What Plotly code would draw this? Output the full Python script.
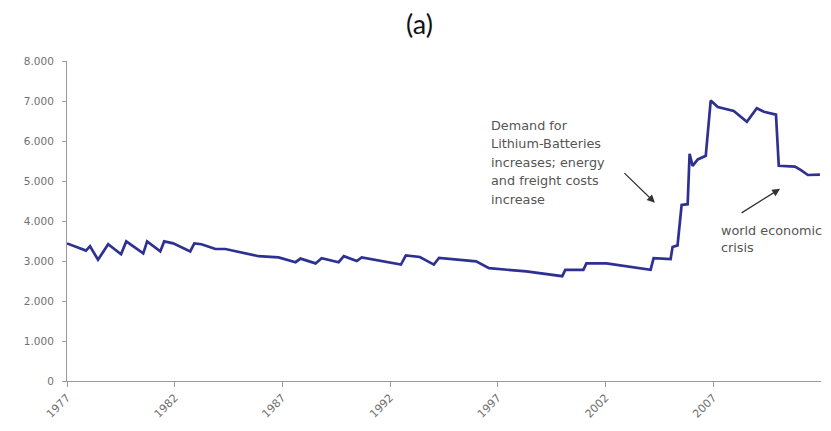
import plotly.graph_objects as go

# Decimal years and values
years = [1977.0, 1977.88, 1978.07, 1978.44, 1978.91, 1979.51, 1979.75, 1980.54, 1980.72,
         1981.33, 1981.51, 1981.93, 1982.72, 1982.91, 1983.24, 1983.89, 1984.35, 1985.28,
         1985.89, 1986.82, 1987.61, 1987.84, 1988.54, 1988.82, 1989.61, 1989.85, 1990.45,
         1990.68, 1992.50, 1992.73, 1993.38, 1994.03, 1994.27, 1995.99, 1996.59, 1998.32,
         1999.99, 2000.13, 2000.97, 2001.11, 2002.04, 2004.09, 2004.23, 2005.02, 2005.11,
         2005.34, 2005.53, 2005.81, 2005.90, 2006.04, 2006.28, 2006.65, 2006.88, 2007.21,
         2007.95, 2008.56, 2009.02, 2009.35, 2009.91, 2010.04, 2010.79, 2011.07, 2011.39,
         2011.95]
values = [3440, 3260, 3370, 3030, 3420, 3170, 3490, 3190, 3490,
          3240, 3490, 3440, 3240, 3440, 3420, 3300, 3300, 3190,
          3120, 3090, 2970, 3060, 2940, 3070, 2970, 3120, 3000,
          3090, 2910, 3140, 3100, 2910, 3080, 2990, 2820, 2740,
          2620, 2780, 2780, 2940, 2940, 2780, 3070, 3050, 3350,
          3390, 4400, 4420, 5680, 5380, 5540, 5630, 7010, 6850,
          6750, 6480, 6820, 6730, 6660, 5380, 5360, 5270, 5150,
          5160]

x_ticks = [1977, 1982, 1987, 1992, 1997, 2002, 2007]
x_ticklabels = ["1977", "1982", "1987", "1992", "1997", "2002", "2007"]
y_ticks = [0, 1000, 2000, 3000, 4000, 5000, 6000, 7000, 8000]
y_ticklabels = ["0", "1.000", "2.000", "3.000", "4.000", "5.000", "6.000", "7.000", "8.000"]

title_text = "(a)"
note1_lines = ["Demand for", "Lithium-Batteries", "increases; energy",
               "and freight costs", "increase"]
note2_lines = ["world economic", "crisis"]

fig = go.Figure()
fig.add_trace(go.Scatter(x=years, y=values, mode="lines",
                         line=dict(color="#2E3192", width=2.7), hoverinfo="skip"))

gray = "#707070"
tick_font = dict(family="DejaVu Sans", size=10.5, color=gray)
fig.update_layout(
    width=823, height=423,
    margin=dict(l=59, r=10, t=53, b=47),
    paper_bgcolor="white", plot_bgcolor="white",
    showlegend=False,
    title=dict(text=title_text, x=0.5, xanchor="center", y=0.96, yanchor="middle",
               font=dict(family="Lato, Open Sans, sans-serif", size=27, color="#111111")),
    xaxis=dict(range=[1977, 2012], tickvals=x_ticks, ticktext=x_ticklabels,
               tickangle=-45, showgrid=False, zeroline=False,
               showline=True, linecolor="#999999", linewidth=1,
               ticks="outside", ticklen=5, tickcolor="#999999",
               tickfont=dict(family="DejaVu Sans", size=11, color=gray)),
    yaxis=dict(range=[0, 8000], tickvals=y_ticks, ticktext=y_ticklabels,
               showgrid=False, zeroline=False,
               showline=True, linecolor="#999999", linewidth=1,
               ticks="outside", ticklen=4, tickcolor="#999999",
               ticklabelstandoff=6, tickfont=tick_font),
)

ann_font = dict(family="DejaVu Sans", size=12.8, color="#555555")
for i, line in enumerate(note1_lines):
    fig.add_annotation(x=1996.60, y=6390, xref="x", yref="y", text=line, showarrow=False,
                       xanchor="left", yanchor="middle", align="left", font=ann_font,
                       yshift=-18.4 * i)
for i, line in enumerate(note2_lines):
    fig.add_annotation(x=2007.25, y=3765, xref="x", yref="y", text=line, showarrow=False,
                       xanchor="left", yanchor="middle", align="left", font=ann_font,
                       yshift=-17 * i)
fig.add_annotation(x=2004.29, y=4458, xref="x", yref="y", text="", showarrow=True,
                   arrowhead=2, arrowsize=1.2, arrowwidth=1.3, arrowcolor="#333333",
                   ax=-32, ay=-31)
fig.add_annotation(x=2010.10, y=4805, xref="x", yref="y", text="", showarrow=True,
                   arrowhead=2, arrowsize=1.2, arrowwidth=1.3, arrowcolor="#333333",
                   ax=-40, ay=25)

fig.write_html("out.html")
